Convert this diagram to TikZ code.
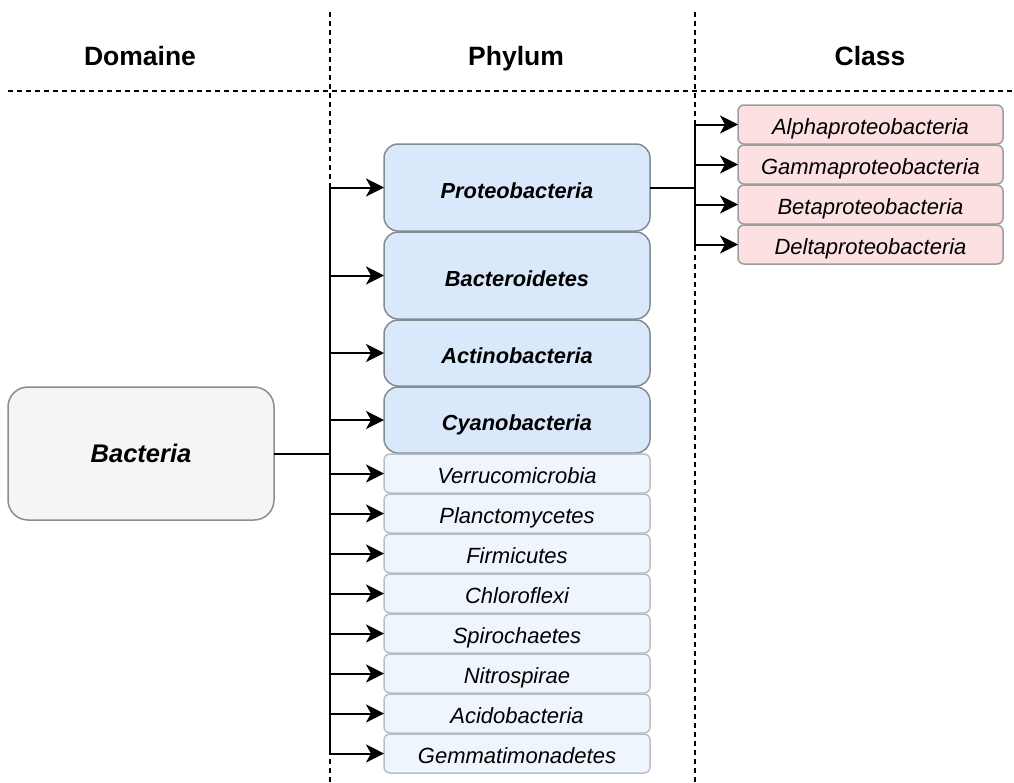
\documentclass[tikz,border=0pt]{standalone}
\usepackage{fontspec}
\setmainfont{Liberation Sans}
\usetikzlibrary{arrows.meta, positioning}

\definecolor{domfill}{HTML}{F5F5F5}
\definecolor{domline}{HTML}{8C8C8C}
\definecolor{phybig}{HTML}{DAE8FC}
\definecolor{phybigline}{HTML}{858B93}
\definecolor{physmall}{HTML}{EFF5FD}
\definecolor{physmallline}{HTML}{B8BEC6}
\definecolor{clsfill}{HTML}{FDE1E2}
\definecolor{clsline}{HTML}{9C9C9C}

\begin{document}
\begin{tikzpicture}[
        x=1pt, y=-1pt,
        node distance=1pt,
        header/.style={anchor=base, font=\fontsize{26.5}{30}\selectfont\bfseries},
        box/.style={rectangle, line width=1.5pt, outer sep=0pt, text depth=0pt},
        dombox/.style={box, rounded corners=20pt, draw=domline, fill=domfill, minimum width=266pt, minimum height=133pt, text height=18.4pt, font=\fontsize{25.5}{30}\selectfont\bfseries\itshape},
        bigphy/.style={box, rounded corners=14pt, draw=phybigline, fill=phybig, minimum width=266pt, text height=21.5pt, font=\fontsize{21.8}{26}\selectfont\bfseries\itshape},
        smallphy/.style={box, rounded corners=6pt, draw=physmallline, fill=physmall, minimum width=266pt, minimum height=39pt, text height=20pt, font=\fontsize{22}{26}\selectfont\itshape},
        cls/.style={box, rounded corners=6pt, draw=clsline, fill=clsfill, minimum width=265pt, minimum height=39pt, text height=20pt, font=\fontsize{22}{26}\selectfont\itshape},
        arrow/.style={-{Stealth[length=18pt, width=18pt, inset=5pt]}, line width=2pt, draw=black},
        sep/.style={dashed, dash pattern=on 5pt off 4pt, line width=1.5pt}
    ]
        \useasboundingbox (0,0) rectangle (1014,782);

        % Column separators
        \draw[sep] (8,91) -- (1014,91);
        \draw[sep] (330,12) -- (330,782);
        \draw[sep] (695,12) -- (695,782);

        % Headers
        \node[header] (hdom) at (140,65) {Domaine};
        \node[header] (hphy) at (516,65) {Phylum};
        \node[header] (hcls) at (870,65) {Class};

        % Domain
        \node[dombox] (bact) at (141,453.5) {Bacteria};

        % Phyla
        \node[bigphy, minimum height=87pt] (prot) at (517,187.5) {Proteobacteria};
        \node[bigphy, minimum height=87pt, below=of prot] (bacd) {Bacteroidetes};
        \node[bigphy, minimum height=66pt, below=of bacd] (acti) {Actinobacteria};
        \node[bigphy, minimum height=66pt, below=of acti] (cyan) {Cyanobacteria};
        \node[smallphy, below=of cyan] (verr) {Verrucomicrobia};
        \node[smallphy, below=of verr] (plan) {Planctomycetes};
        \node[smallphy, below=of plan] (firm) {Firmicutes};
        \node[smallphy, below=of firm] (chlo) {Chloroflexi};
        \node[smallphy, below=of chlo] (spir) {Spirochaetes};
        \node[smallphy, below=of spir] (nitr) {Nitrospirae};
        \node[smallphy, below=of nitr] (acid) {Acidobacteria};
        \node[smallphy, below=of acid] (gemm) {Gemmatimonadetes};

        % Classes
        \node[cls] (alph) at (870.5,124.5) {Alphaproteobacteria};
        \node[cls, below=of alph] (gamm) {Gammaproteobacteria};
        \node[cls, below=of gamm] (beta) {Betaproteobacteria};
        \node[cls, below=of beta] (delt) {Deltaproteobacteria};

        % Branch points
        \coordinate (split) at (330,453.5);
        \coordinate (psplit) at (695,187.5);

        % Connections
        \draw[arrow] (bact.east) -- (split) |- (prot.west);
        \draw[arrow] (bact.east) -- (split) |- (bacd.west);
        \draw[arrow] (bact.east) -- (split) |- (acti.west);
        \draw[arrow] (bact.east) -- (split) |- (cyan.west);
        \draw[arrow] (bact.east) -- (split) |- (verr.west);
        \draw[arrow] (bact.east) -- (split) |- (plan.west);
        \draw[arrow] (bact.east) -- (split) |- (firm.west);
        \draw[arrow] (bact.east) -- (split) |- (chlo.west);
        \draw[arrow] (bact.east) -- (split) |- (spir.west);
        \draw[arrow] (bact.east) -- (split) |- (nitr.west);
        \draw[arrow] (bact.east) -- (split) |- (acid.west);
        \draw[arrow] (bact.east) -- (split) |- (gemm.west);

        \draw[arrow] (prot.east) -- (psplit) |- (alph.west);
        \draw[arrow] (prot.east) -- (psplit) |- (gamm.west);
        \draw[arrow] (prot.east) -- (psplit) |- (beta.west);
        \draw[arrow] (prot.east) -- (psplit) |- (delt.west);
    \end{tikzpicture}
\end{document}
